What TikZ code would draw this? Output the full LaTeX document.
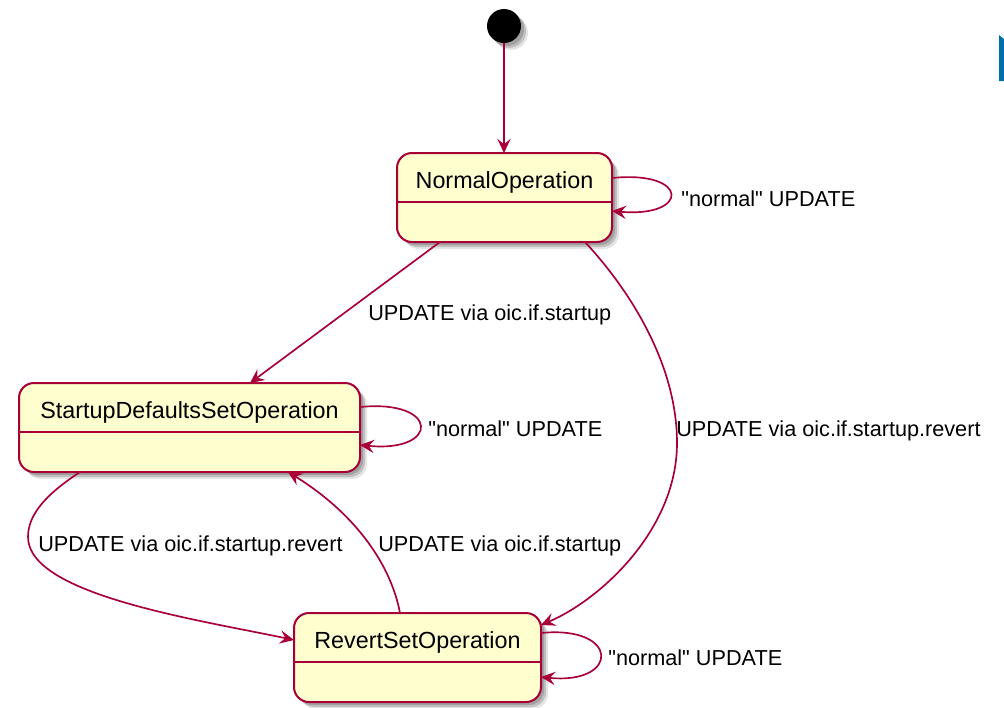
\documentclass[tikz,border=0pt]{standalone}
\usepackage{fontspec}
\setmainfont{Liberation Sans}[Ligatures=TeXOff]
\usetikzlibrary{arrows.meta,shadows,calc}
\definecolor{umlborder}{HTML}{A80036}
\definecolor{umlfill}{HTML}{FEFECE}
\definecolor{umlblue}{HTML}{0070A8}
\tikzset{
  soft shadow/.style={
    drop shadow={shadow xshift=4.2pt,shadow yshift=-4.2pt,opacity=.10,fill=black},
    drop shadow={shadow xshift=3.0pt,shadow yshift=-3.0pt,opacity=.16,fill=black},
    drop shadow={shadow xshift=1.8pt,shadow yshift=-1.8pt,opacity=.16,fill=black}},
  statebox/.style={draw=umlborder, line width=1.2pt, fill=umlfill, rounded corners=9pt,
    inner sep=0pt, outer sep=0pt, minimum height=53.4pt, soft shadow},
  statename/.style={font=\fontsize{14}{16}\selectfont, anchor=base, inner sep=0pt},
  divider/.style={draw=umlborder, line width=1.1pt},
  trans/.style={draw=umlborder, line width=1pt,
    -{Stealth[length=8.5pt,width=8pt,inset=3.2pt]}},
  translabel/.style={font=\fontsize{13}{15}\selectfont, anchor=base west, inner sep=0pt},
}
\begin{document}
\begin{tikzpicture}[x=0.6pt, y=-0.6pt]
\useasboundingbox (0,0) rectangle (1004,708);

% corner mark
\fill[umlblue] (999,35) -- (1004,39) -- (1004,81) -- (999,81) -- cycle;

% initial state
\node[circle, fill=black, minimum size=20.4pt, inner sep=0pt, outer sep=0pt, soft shadow]
  (init) at (504,26) {};

% states
\node[statebox, minimum width=129pt] (normal) at (504.5,197.5) {};
\node[statename] (normalT) at ($(normal.north)+(0,35.4)$) {NormalOperation};
\draw[divider] ($(normal.north west)+(0,49)$) -- ($(normal.north east)+(0,49)$);

\node[statebox, minimum width=204.6pt] (startup) at (189.5,427.5) {};
\node[statename] (startupT) at ($(startup.north)+(0,35.4)$) {StartupDefaultsSetOperation};
\draw[divider] ($(startup.north west)+(0,49)$) -- ($(startup.north east)+(0,49)$);

\node[statebox, minimum width=148.2pt] (revert) at (417.5,657.5) {};
\node[statename] (revertT) at ($(revert.north)+(0,35.4)$) {RevertSetOperation};
\draw[divider] ($(revert.north west)+(0,49)$) -- ($(revert.north east)+(0,49)$);

% bend points
\coordinate (bendR) at (677,443);
\coordinate (bendL) at (28,537);

% transitions
\draw[trans] (init.south) -- (init.south |- normal.north);

\draw[trans] ($(normal.north east)+(0,25)$)
  .. controls ($(normal.north east)+(78,17)$) and ($(normal.north east)+(78,65)$)
  .. ($(normal.north east)+(0,58)$);

\draw[trans] ($(normal.south west)+(43,0)$) -- ($(startup.north west)+(231,0)$);

\draw[trans] ($(normal.south east)+(-27,0)$)
  .. controls (625,285) and (677,360) .. (bendR)
  .. controls (677,530) and (600,600) .. ($(revert.north east)+(0,12)$);

\draw[trans] ($(startup.north east)+(0,24)$)
  .. controls ($(startup.north east)+(80,16)$) and ($(startup.north east)+(80,70)$)
  .. ($(startup.north east)+(0,62)$);

\draw[trans] ($(startup.south west)+(61,0)$)
  .. controls (45,495) and (28,515) .. (bendL)
  .. controls (28,595) and (200,620) .. ($(revert.north west)+(0,27)$);

\draw[trans] ($(revert.north west)+(106,0)$)
  .. controls (390,560) and (350,510) .. ($(startup.south west)+(269,0)$);

\draw[trans] ($(revert.north east)+(0,20)$)
  .. controls ($(revert.north east)+(79,12)$) and ($(revert.north east)+(79,72)$)
  .. ($(revert.north east)+(0,64)$);

% transition labels
\node[translabel] (lblNN) at (681,206) {"normal" UPDATE};
\node[translabel] (lblNS) at (368,320) {UPDATE via oic.if.startup};
\node[translabel] (lblSS) at (428,436) {"normal" UPDATE};
\node[translabel] (lblNR) at (676,436) {UPDATE via oic.if.startup.revert};
\node[translabel] (lblSR) at (38,551) {UPDATE via oic.if.startup.revert};
\node[translabel] (lblRS) at (378,551) {UPDATE via oic.if.startup};
\node[translabel] (lblRR) at (608,665) {"normal" UPDATE};
\end{tikzpicture}
\end{document}
